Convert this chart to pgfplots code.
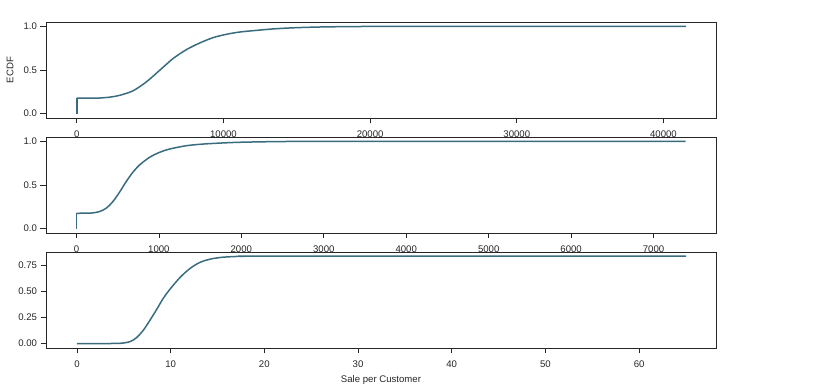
\documentclass[border=0pt]{standalone}
\usepackage{pgfplots}
\pgfplotsset{compat=1.18}
\usepackage{fontspec}
\setmainfont{Liberation Sans}
\definecolor{lc}{RGB}{58,108,128}
\definecolor{fr}{RGB}{38,38,38}
\pgfplotsset{
  ecdf/.style={
    scale only axis, width=670pt, height=96pt, anchor=south west,
    axis line style={fr, line width=0.9pt},
    tick align=outside, tick pos=left,
    major tick length=5.5pt,
    every tick/.style={fr, line width=0.7pt},
    tick label style={font=\fontsize{9.6}{11}\selectfont, text=fr},
    label style={font=\fontsize{9.6}{11}\selectfont, text=fr},
    xticklabel style={yshift=-4pt},
    /pgf/number format/assume math mode=true,
    /pgf/number format/1000 sep={},
    scaled ticks=false,
    xtick pos=bottom, ytick pos=left,
  },
  curve/.style={lc, line width=1.5pt, line join=round, smooth}
}
\begin{document}
\begin{tikzpicture}[x=1pt,y=1pt]
\path (0,0) rectangle (833,390);
\begin{axis}[ecdf, at={(46pt,272pt)},
  xmin=-2100, xmax=43580, ymin=-0.05, ymax=1.05,
  xtick={0,10000,20000,30000,40000},
  ytick={0,0.5,1},
  yticklabel style={/pgf/number format/.cd,fixed,fixed zerofill,precision=1},
  ylabel={ECDF},
  ylabel style={at={(axis description cs:-0.0537,0.5)}, anchor=center},
]
\addplot[lc, line width=1.5pt] coordinates {(0,0) (0,0.178)};
\addplot[curve] coordinates {
(0,0.178) (1000,0.178) (1568,0.179) (2300,0.19) (2932,0.21) (3840,0.262) (4750,0.365) (5660,0.498) (6570,0.632) (7480,0.734) (8390,0.81) (9300,0.871) (10200,0.909) (11110,0.935) (12250,0.954) (13500,0.972) (15000,0.985) (17000,0.994) (20000,0.999) (24000,1) (41550,1)};
\end{axis}
\begin{axis}[ecdf, at={(46pt,157pt)},
  xmin=-369, xmax=7757, ymin=-0.05, ymax=1.05,
  xtick={0,1000,2000,3000,4000,5000,6000,7000},
  ytick={0,0.5,1},
  yticklabel style={/pgf/number format/.cd,fixed,fixed zerofill,precision=1},
]
\addplot[lc, line width=1.5pt] coordinates {(0,0) (0,0.176)};
\addplot[curve] coordinates {
(0,0.176) (120,0.177) (198,0.18) (279,0.195) (360,0.233) (441,0.309) (522,0.416) (603,0.538) (684,0.645) (765,0.729) (887,0.817) (1008,0.874) (1130,0.912) (1332,0.95) (1534,0.969) (1737,0.98) (2000,0.99) (2500,0.998) (3200,1) (7390,1)};
\end{axis}
\begin{axis}[ecdf, at={(46pt,42pt)},
  xmin=-3.3, xmax=68.2, ymin=-0.042, ymax=0.88,
  xtick={0,10,20,30,40,50,60},
  ytick={0,0.25,0.5,0.75},
  yticklabel style={/pgf/number format/.cd,fixed,fixed zerofill,precision=2},
  xlabel={Sale per Customer},
  xlabel style={at={(axis description cs:0.5,-0.333)}, anchor=center},
]
\addplot[curve] coordinates {
(0,0.001) (2.5,0.001) (4.6,0.003) (5.66,0.019) (6.37,0.058) (7.08,0.128) (7.79,0.224) (8.5,0.327) (9.2,0.433) (9.9,0.519) (11.0,0.635) (12.06,0.721) (13.1,0.779) (14.2,0.811) (15.6,0.83) (17.8,0.839) (21,0.84) (65,0.84)};
\end{axis}
\end{tikzpicture}
\end{document}
